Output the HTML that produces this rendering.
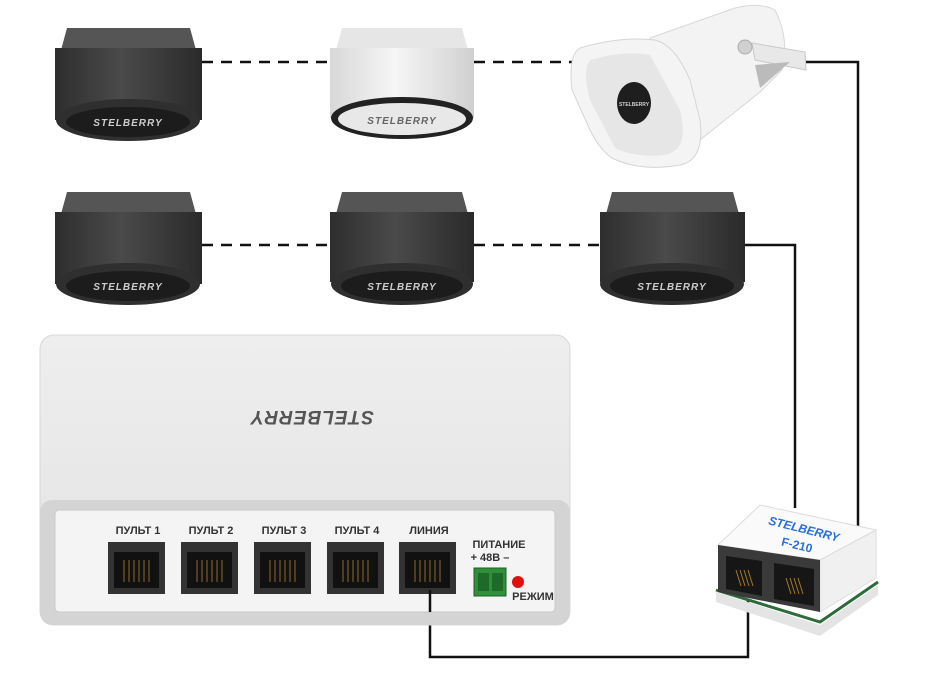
<!DOCTYPE html>
<html><head><meta charset="utf-8"><style>
html,body{margin:0;padding:0;background:#fff;width:939px;height:680px;overflow:hidden}
svg{display:block;font-family:"Liberation Sans",sans-serif}
</style></head><body>
<svg width="939" height="680" viewBox="0 0 939 680">
<defs>
<linearGradient id="dk" x1="0" x2="1"><stop offset="0" stop-color="#2e2e2e"/><stop offset=".45" stop-color="#4a4a4a"/><stop offset="1" stop-color="#2a2a2a"/></linearGradient>
<linearGradient id="wt" x1="0" x2="1"><stop offset="0" stop-color="#d8d8d8"/><stop offset=".45" stop-color="#f6f6f6"/><stop offset="1" stop-color="#d0d0d0"/></linearGradient>
<linearGradient id="box" x1="0" y1="0" x2="0" y2="1"><stop offset="0" stop-color="#eeeeee"/><stop offset="1" stop-color="#e2e2e2"/></linearGradient>
</defs>

<g stroke="#111" stroke-width="2.5" fill="none">
<line x1="202" y1="62" x2="330" y2="62" stroke-dasharray="11 8"/>
<line x1="474" y1="62" x2="572" y2="62" stroke-dasharray="11 8"/>
<line x1="202" y1="245" x2="330" y2="245" stroke-dasharray="11 8"/>
<line x1="474" y1="245" x2="600" y2="245" stroke-dasharray="11 8"/>
<polyline points="806,62 858,62 858,530"/>
<polyline points="745,245 795,245 795,508"/>
<polyline points="430,590 430,657 748,657 748,600"/>
</g>

<g transform="translate(55,28)">
<path d="M12,0 L135,0 L141,22 L6,22 Z" fill="#555"/><path d="M0,20 L147,20 L147,92 L0,92 Z" fill="url(#dk)"/>
<ellipse cx="73" cy="92" rx="72" ry="21" fill="#2f2f2f"/><ellipse cx="73" cy="94" rx="62" ry="15" fill="#1c1c1c"/>
<text x="73" y="98" font-size="10" font-weight="bold" font-style="italic" fill="#ccc" text-anchor="middle" letter-spacing="1">STELBERRY</text></g>
<g transform="translate(330,28)">
<path d="M12,0 L132,0 L138,22 L6,22 Z" fill="#e6e6e6"/><path d="M0,20 L144,20 L144,90 L0,90 Z" fill="url(#wt)"/>
<ellipse cx="72" cy="90" rx="71" ry="21" fill="#222"/><ellipse cx="72" cy="91" rx="64" ry="16" fill="#e8e8e8"/>
<text x="72" y="96" font-size="10" font-weight="bold" font-style="italic" fill="#666" text-anchor="middle" letter-spacing="1">STELBERRY</text></g>
<g transform="translate(55,192)">
<path d="M12,0 L135,0 L141,22 L6,22 Z" fill="#555"/><path d="M0,20 L147,20 L147,92 L0,92 Z" fill="url(#dk)"/>
<ellipse cx="73" cy="92" rx="72" ry="21" fill="#2f2f2f"/><ellipse cx="73" cy="94" rx="62" ry="15" fill="#1c1c1c"/>
<text x="73" y="98" font-size="10" font-weight="bold" font-style="italic" fill="#ccc" text-anchor="middle" letter-spacing="1">STELBERRY</text></g>
<g transform="translate(330,192)">
<path d="M12,0 L132,0 L138,22 L6,22 Z" fill="#555"/><path d="M0,20 L144,20 L144,90 L0,90 Z" fill="url(#dk)"/>
<ellipse cx="72" cy="92" rx="71" ry="21" fill="#2f2f2f"/><ellipse cx="72" cy="94" rx="61" ry="15" fill="#1c1c1c"/>
<text x="72" y="98" font-size="10" font-weight="bold" font-style="italic" fill="#ccc" text-anchor="middle" letter-spacing="1">STELBERRY</text></g>
<g transform="translate(600,192)">
<path d="M12,0 L133,0 L139,22 L6,22 Z" fill="#555"/><path d="M0,20 L145,20 L145,90 L0,90 Z" fill="url(#dk)"/>
<ellipse cx="72" cy="92" rx="72" ry="21" fill="#2f2f2f"/><ellipse cx="72" cy="94" rx="62" ry="15" fill="#1c1c1c"/>
<text x="72" y="98" font-size="10" font-weight="bold" font-style="italic" fill="#ccc" text-anchor="middle" letter-spacing="1">STELBERRY</text></g>

<!-- horn speaker -->
<g>
<path d="M650,38 L735,8 Q760,2 775,10 Q790,40 782,70 L760,92 L700,140 Z" fill="#f3f3f3" stroke="#d8d8d8"/>
<path d="M752,43 L805,52 L806,70 L755,60 Z" fill="#e8e8e8" stroke="#c8c8c8"/>
<path d="M755,65 L790,62 L760,88 Z" fill="#bbb"/>
<circle cx="745" cy="47" r="7" fill="#d0d0d0" stroke="#aaa"/>
<path d="M580,48 Q620,36 655,40 Q675,45 690,80 L700,120 Q705,160 680,165 Q640,172 612,158 Q600,150 590,130 L572,90 Q568,55 580,48 Z" fill="#f4f4f4" stroke="#d5d5d5"/>
<path d="M590,60 Q625,50 650,55 L680,110 Q690,150 665,155 Q635,158 615,148 L590,100 Q582,70 590,60 Z" fill="#e6e6e6"/>
<ellipse cx="634" cy="103" rx="17" ry="21" fill="#1e1e1e"/>
<text x="634" y="106" font-size="5" fill="#ccc" text-anchor="middle" font-weight="bold">STELBERRY</text>
</g>

<rect x="40" y="335" width="530" height="290" rx="14" fill="url(#box)" stroke="#d8d8d8"/>
<rect x="40" y="500" width="530" height="125" rx="12" fill="#d4d4d4"/>
<rect x="55" y="510" width="500" height="102" rx="4" fill="#f4f4f4" stroke="#c8c8c8"/>
<text x="312" y="423" font-size="19" font-weight="bold" font-style="italic" fill="#555" text-anchor="middle" transform="rotate(180 312 417)" letter-spacing="1">STELBERRY</text>
<g font-size="11" font-weight="bold" fill="#333" text-anchor="middle">
<text x="138" y="534">ПУЛЬТ 1</text><text x="211" y="534">ПУЛЬТ 2</text><text x="284" y="534">ПУЛЬТ 3</text><text x="357" y="534">ПУЛЬТ 4</text><text x="429" y="534">ЛИНИЯ</text>
<text x="499" y="548">ПИТАНИЕ</text><text x="490" y="561">+ 48В –</text><text x="533" y="600">РЕЖИМ</text>
</g>
<g fill="#333">
<rect x="108" y="542" width="57" height="52"/><rect x="181" y="542" width="57" height="52"/><rect x="254" y="542" width="57" height="52"/><rect x="327" y="542" width="57" height="52"/><rect x="399" y="542" width="57" height="52"/>
</g>
<g fill="#111">
<rect x="114" y="552" width="45" height="36"/><rect x="187" y="552" width="45" height="36"/><rect x="260" y="552" width="45" height="36"/><rect x="333" y="552" width="45" height="36"/><rect x="405" y="552" width="45" height="36"/>
</g>
<g stroke="#8a6a2a" stroke-width="1">
<path d="M124,560v22M129,560v22M134,560v22M139,560v22M144,560v22M149,560v22"/>
<path d="M197,560v22M202,560v22M207,560v22M212,560v22M217,560v22M222,560v22"/>
<path d="M270,560v22M275,560v22M280,560v22M285,560v22M290,560v22M295,560v22"/>
<path d="M343,560v22M348,560v22M353,560v22M358,560v22M363,560v22M368,560v22"/>
<path d="M415,560v22M420,560v22M425,560v22M430,560v22M435,560v22M440,560v22"/>
</g>
<rect x="474" y="568" width="32" height="28" fill="#2f8f3a" stroke="#1f5f26"/>
<rect x="478" y="573" width="11" height="18" fill="#1e6a28"/><rect x="492" y="573" width="11" height="18" fill="#1e6a28"/>
<circle cx="518" cy="582" r="6" fill="#e01010"/>
<line x1="430" y1="590" x2="430" y2="612" stroke="#111" stroke-width="2.5"/>

<!-- F-210 -->
<g>
<path d="M716,592 L820,625 L878,585 L878,595 L820,636 L716,602 Z" fill="#e4e4e4"/>
<path d="M716,590 L820,622 L878,582" fill="none" stroke="#2d6b3a" stroke-width="3"/>
<path d="M718,545 L760,505 L876,530 L820,560 Z" fill="#fafafa" stroke="#ddd"/>
<path d="M820,560 L876,530 L876,578 L820,612 Z" fill="#f0f0f0" stroke="#ddd"/>
<path d="M718,545 L820,560 L820,612 L718,592 Z" fill="#3a3a3a"/>
<path d="M726,556 L762,561 L762,596 L726,589 Z" fill="#161616"/>
<path d="M774,563 L814,569 L814,606 L774,599 Z" fill="#161616"/>
<g stroke="#a07a30"><path d="M736,570l5,16M740,570l5,16M744,570l5,16M748,570l5,16M786,578l5,16M790,578l5,16M794,578l5,16M798,578l5,16"/></g>
<text x="803" y="533" font-size="12" font-weight="bold" font-style="italic" fill="#2a6fd6" text-anchor="middle" transform="rotate(14 803 533)">STELBERRY</text>
<text x="796" y="549" font-size="12" font-weight="bold" fill="#2a6fd6" text-anchor="middle" transform="rotate(14 796 549)">F-210</text>
</g>
</svg>
</body></html>
